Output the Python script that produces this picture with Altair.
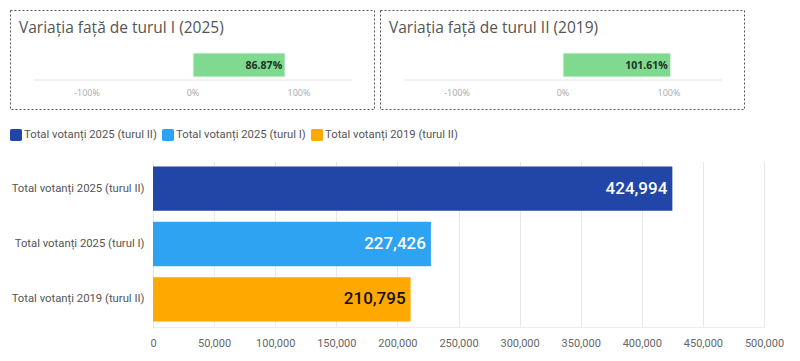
import altair as alt
import pandas as pd

# ---- data ----
variation_titles = ["Variația față de turul I (2025)", "Variația față de turul II (2019)"]
variation_values = [86.87, 101.61]
variation_labels = ["86.87%", "101.61%"]
pct_ticks = [-100, 0, 100]
pct_tick_labels = ["-100%", "0%", "100%"]
pct_axis_extent = [-150, 150]

categories = [
    "Total votanți 2025 (turul II)",
    "Total votanți 2025 (turul I)",
    "Total votanți 2019 (turul II)",
]
voters = [424994, 227426, 210795]
colors = ["#2146a8", "#2ea3f2", "#ffa800"]
label_colors = ["#ffffff", "#ffffff", "#111111"]
x_ticks = [0, 50000, 100000, 150000, 200000, 250000, 300000, 350000, 400000, 450000, 500000]

TITLE_FONT = "Open Sans"
FONT = "Roboto"


def make_panel(i):
    xs = alt.Scale(domain=[-172.64, 170.75], nice=False, zero=False)
    title_df = pd.DataFrame({"t": [variation_titles[i]]})
    bar_df = pd.DataFrame({"v0": [0.0], "v": [variation_values[i]], "lab": [variation_labels[i]]})
    rule_df = pd.DataFrame({"a": [pct_axis_extent[0]], "b": [pct_axis_extent[1]]})
    tick_df = pd.DataFrame({"t": pct_ticks, "lab": pct_tick_labels})

    title = alt.Chart(title_df).mark_text(
        align="left", baseline="alphabetic", font=TITLE_FONT, fontSize=15.5, color="#555555"
    ).encode(x=alt.value(9), y=alt.value(23), text="t:N")

    rule = alt.Chart(rule_df).mark_rule(color="#e6e6e6", strokeWidth=1).encode(
        x=alt.X("a:Q", scale=xs, axis=None), x2="b:Q", y=alt.value(70)
    )
    bar = alt.Chart(bar_df).mark_bar(color="#7fd98f", stroke="#eaf8ec", strokeWidth=1).encode(
        x=alt.X("v0:Q", scale=xs, axis=None), x2="v:Q", y=alt.value(43), y2=alt.value(67)
    )
    lab = alt.Chart(bar_df).mark_text(
        align="right", baseline="middle", dx=-3, font=TITLE_FONT, fontSize=10.5,
        fontWeight="bold", color="#1a3323"
    ).encode(x=alt.X("v:Q", scale=xs, axis=None), y=alt.value(56), text="lab:N")
    ticks = alt.Chart(tick_df).mark_text(
        align="center", baseline="middle", font=TITLE_FONT, fontSize=9, color="#a8a8a8"
    ).encode(x=alt.X("t:Q", scale=xs, axis=None), y=alt.value(83), text="lab:N")

    return alt.layer(title, rule, bar, lab, ticks).properties(
        width=364, height=99,
        view=alt.ViewBackground(stroke="#555555", strokeDash=[2, 2], strokeWidth=1),
    )


top = alt.hconcat(make_panel(0), make_panel(1), spacing=4)

bar_df = pd.DataFrame({
    "cat": categories,
    "v": voters,
    "zero": [0] * len(voters),
    "label": [f"{v:,}" for v in voters],
    "tc": label_colors,
})

# plot area spans the full width (from the left edge of the labels); the value
# scale starts 143px in, the category labels sit in that gutter.
LEFT_GUTTER = 143
PLOT_W = 754
xscale = alt.Scale(domain=[0, 500000], range=[LEFT_GUTTER, PLOT_W], nice=False, zero=False)

y_enc = alt.Y(
    "cat:N", sort=categories,
    scale=alt.Scale(paddingInner=0.2, paddingOuter=0.1),
    axis=alt.Axis(title=None, ticks=False, domain=False, labelFont=FONT, labelFontSize=11.3,
                  labelColor="#555555", labelPadding=9, offset=-LEFT_GUTTER,
                  labelLimit=300),
)
x_enc = alt.X(
    "v:Q",
    scale=xscale,
    axis=alt.Axis(title=None, values=x_ticks, format=",d", grid=True, gridColor="#e8e8e8",
                  ticks=False, domain=True, domainColor="#ececec", labelFont=FONT,
                  labelOverlap=False, labelFlush=False,
                  labelFontSize=11, labelColor="#666666", labelPadding=10),
)

rounded_square = "M-0.7,-1H0.7Q1,-1 1,-0.7V0.7Q1,1 0.7,1H-0.7Q-1,1 -1,0.7V-0.7Q-1,-1 -0.7,-1Z"

bars = alt.Chart(bar_df).mark_bar().encode(
    x=x_enc,
    x2="zero:Q",
    y=y_enc,
    color=alt.Color(
        "cat:N", sort=categories,
        scale=alt.Scale(domain=categories, range=colors),
        legend=alt.Legend(
            orient="none", legendX=0, legendY=-32, direction="horizontal", title=None,
            symbolType=rounded_square, symbolSize=144, symbolStrokeWidth=0, symbolOpacity=1,
            labelFont=FONT, labelFontSize=11.3, labelColor="#555555", labelOffset=2,
            columnPadding=5, padding=0,
        ),
    ),
)
texts = alt.Chart(bar_df).mark_text(
    align="right", baseline="middle", dx=-5, font=FONT, fontSize=17, fontWeight=500
).encode(
    x=alt.X("v:Q", scale=xscale),
    y=alt.Y("cat:N", sort=categories),
    text="label:N",
    color=alt.Color("tc:N", scale=None),
)

bottom = alt.layer(bars, texts).properties(width=PLOT_W, height=166)

chart = alt.vconcat(top, bottom, spacing=18).resolve_scale(
    color="independent"
).resolve_legend(color="independent").properties(
    padding={"left": 1, "top": 1, "right": 0, "bottom": 0}
).configure_view(stroke="transparent")

chart.save("out.html", embed_options={"renderer": "svg", "actions": False})
